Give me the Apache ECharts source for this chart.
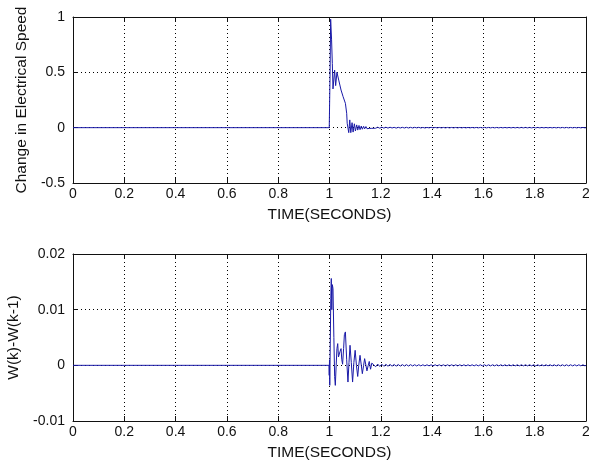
<!DOCTYPE html>
<html>
<head>
<meta charset="utf-8">
<script src="https://cdn.jsdelivr.net/npm/echarts@6/dist/echarts.min.js"></script>
<style>
  html, body { margin: 0; padding: 0; background: #fff; }
  #chart { width: 589px; height: 463px; }
</style>
</head>
<body>
<div id="chart"></div>
<script>
// x axis ticks (seconds)
const timeTicks = [0, 0.2, 0.4, 0.6, 0.8, 1, 1.2, 1.4, 1.6, 1.8, 2]

// top panel: change in electrical speed, transient part
const speedT = [0, 0.999, 1.002, 1.0045, 1.008, 1.011, 1.0136, 1.020, 1.024, 1.029, 1.036, 1.045, 1.053,
  1.062, 1.067, 1.069, 1.075, 1.079, 1.083, 1.088, 1.092, 1.097, 1.101, 1.106, 1.110, 1.115, 1.119,
  1.124, 1.128, 1.133, 1.137, 1.142, 1.146, 1.151, 1.155, 1.160, 1.165]
const speedV = [0, 0, 0.45, 0.98, 0.8, 0.58, 0.35, 0.52, 0.38, 0.50, 0.43, 0.34, 0.28,
  0.22, 0.13, 0.04, -0.045, 0.07, -0.045, 0.045, -0.04, 0.035, -0.03, 0.025, -0.022, 0.02, -0.018,
  0.015, -0.014, 0.012, -0.011, 0.01, -0.009, 0.008, -0.007, 0.006, -0.006]

// bottom panel: W(k)-W(k-1), transient part
const deltaT = [0, 0.998, 0.999, 1.000, 1.001, 1.003, 1.005, 1.007, 1.009, 1.011, 1.0136, 1.017, 1.020,
  1.0227, 1.026, 1.029, 1.032, 1.035, 1.038, 1.041, 1.045, 1.048, 1.051, 1.055, 1.058, 1.062, 1.067,
  1.072, 1.076, 1.080, 1.085, 1.090, 1.095, 1.100, 1.105, 1.110, 1.114, 1.119, 1.124, 1.128, 1.133,
  1.137, 1.142, 1.146, 1.151, 1.155, 1.160, 1.165]
const deltaV = [0, 0, -0.0018, 0.001, -0.0036, 0.004, 0.012, 0.0156, 0.010, 0.0145, 0.0138, 0.005, -0.002,
  -0.0036, 0.000, 0.003, 0.0039, 0.0015, 0.0012, 0.0025, 0.003, 0.001, 0.0002, 0.003, 0.0055, 0.006, 0.001,
  -0.003, 0.0005, 0.0036, 0.0005, -0.003, 0.0005, 0.0027, 0.0, -0.002, 0.0, 0.0018, 0.0, -0.0015, 0.0,
  0.0012, 0.0, -0.001, 0.0, 0.0007, -0.0007, 0.0004]

// small ripple after the transient, sampled every half period
const rippleStart = 1.172
const rippleStep = 0.008
const speedRipple = [0.005, -0.005, 0.004, -0.005, 0.004, -0.004, 0.004, -0.004, 0.004, -0.003,
  0.003, -0.004, 0.003, -0.003, 0.003, -0.003, 0.003, -0.003, 0.003, -0.003,
  0.003, -0.002, 0.003, -0.003, 0.002, -0.003, 0.002, -0.002, 0.003, -0.002,
  0.002, -0.002, 0.002, -0.002, 0.002, -0.002, 0.002, -0.002, 0.002, -0.002,
  0.002, -0.002, 0.002, -0.002, 0.002, -0.002, 0.002, -0.002, 0.002, -0.002,
  0.002, -0.002, 0.002, -0.002, 0.002, -0.002, 0.002, -0.002, 0.002, -0.002,
  0.002, -0.002, 0.002, -0.002, 0.002, -0.002, 0.002, -0.002, 0.002, -0.002,
  0.002, -0.002, 0.002, -0.002, 0.002, -0.002, 0.002, -0.002, 0.002, -0.002,
  0.002, -0.002, 0.002, -0.002, 0.002, -0.002, 0.002, -0.002, 0.002, -0.002,
  0.002, -0.002, 0.002, -0.002, 0.002, -0.002, 0.002, -0.002, 0.002, -0.002,
  0.002, -0.002, 0.002, -0.002]
const deltaRipple = [0.0003, -0.00025, 0.00022, -0.0002, 0.0002, -0.00018, 0.00018, -0.00016, 0.00016, -0.00015,
  0.00015, -0.00014, 0.00014, -0.00013, 0.00013, -0.00012, 0.00012, -0.00012, 0.00012, -0.00011,
  0.00011, -0.00011, 0.00011, -0.0001, 0.0001, -0.0001, 0.0001, -0.0001, 0.0001, -0.0001,
  0.0001, -0.0001, 0.0001, -0.0001, 0.0001, -0.0001, 0.0001, -0.0001, 0.0001, -0.0001,
  0.0001, -0.0001, 0.0001, -0.0001, 0.0001, -0.0001, 0.0001, -0.0001, 0.0001, -0.0001,
  0.0001, -0.0001, 0.0001, -0.0001, 0.0001, -0.0001, 0.0001, -0.0001, 0.0001, -0.0001,
  0.0001, -0.0001, 0.0001, -0.0001, 0.0001, -0.0001, 0.0001, -0.0001, 0.0001, -0.0001,
  0.0001, -0.0001, 0.0001, -0.0001, 0.0001, -0.0001, 0.0001, -0.0001, 0.0001, -0.0001,
  0.0001, -0.0001, 0.0001, -0.0001, 0.0001, -0.0001, 0.0001, -0.0001, 0.0001, -0.0001,
  0.0001, -0.0001, 0.0001, -0.0001, 0.0001, -0.0001, 0.0001, -0.0001, 0.0001, -0.0001,
  0.0001, -0.0001, 0.0001, -0.0001]

const speedTicks = [-0.5, 0, 0.5, 1]
const deltaTicks = [-0.01, 0, 0.01, 0.02]

const toPairs = (ts, vs, ripple) => {
  const out = ts.map((t, i) => [t, vs[i]])
  ripple.forEach((v, i) => {
    const t = rippleStart + i * rippleStep
    if (t <= 2) out.push([t, v])
  })
  out.push([2, 0])
  return out
}

const FONT = 'Liberation Sans'
const INK = '#111'
const LINE = '#1a1aa8'

const fmt = v => String(Math.round(v * 1000) / 1000)

const xMain = (gi, name) => ({
  type: 'value', gridIndex: gi, min: timeTicks[0], max: timeTicks[timeTicks.length - 1], interval: 0.2,
  name, nameLocation: 'middle', nameGap: 24,
  nameTextStyle: { color: INK, fontFamily: FONT, fontSize: 15.5 },
  axisLine: { onZero: false, lineStyle: { color: INK, width: 1 } },
  axisTick: { inside: true, length: 5, lineStyle: { color: INK } },
  axisLabel: { color: INK, fontFamily: FONT, fontSize: 14, margin: 4, formatter: fmt },
  splitLine: { show: true, lineStyle: { color: '#000', type: [1, 3], width: 1 } }
})
const xTop = gi => ({
  type: 'value', gridIndex: gi, position: 'top', min: 0, max: 2, interval: 0.2,
  axisLine: { onZero: false, lineStyle: { color: INK } },
  axisTick: { inside: true, length: 5, lineStyle: { color: INK } },
  axisLabel: { show: false }, splitLine: { show: false }
})
const yMain = (gi, ticks, name) => ({
  type: 'value', gridIndex: gi, min: ticks[0], max: ticks[ticks.length - 1], interval: ticks[1] - ticks[0],
  name, nameLocation: 'middle', nameRotate: 90, nameGap: 40,
  nameTextStyle: { color: INK, fontFamily: FONT, fontSize: 15.5 },
  axisLine: { show: true, onZero: false, lineStyle: { color: INK, width: 1 } },
  axisTick: { show: true, inside: true, length: 5, lineStyle: { color: INK } },
  axisLabel: { color: INK, fontFamily: FONT, fontSize: 14, margin: 8, formatter: fmt },
  splitLine: { show: true, lineStyle: { color: '#000', type: [1, 3], width: 1 } }
})
const yRight = (gi, ticks) => ({
  type: 'value', gridIndex: gi, position: 'right', min: ticks[0], max: ticks[ticks.length - 1], interval: ticks[1] - ticks[0],
  axisLine: { show: true, onZero: false, lineStyle: { color: INK } },
  axisTick: { show: true, inside: true, length: 5, lineStyle: { color: INK } },
  axisLabel: { show: false }, splitLine: { show: false }
})

const chart = echarts.init(document.getElementById('chart'))
chart.setOption({
  animation: false,
  backgroundColor: '#fff',
  grid: [
    { left: 73, top: 17, width: 513, height: 166, outerBoundsMode: 'none', containLabel: false },
    { left: 73, top: 254, width: 513, height: 167, outerBoundsMode: 'none', containLabel: false }
  ],
  xAxis: [xMain(0, 'TIME(SECONDS)'), xTop(0), xMain(1, 'TIME(SECONDS)'), xTop(1)],
  yAxis: [yMain(0, speedTicks, 'Change in Electrical Speed'), yRight(0, speedTicks),
          yMain(1, deltaTicks, 'W(k)-W(k-1)'), yRight(1, deltaTicks)],
  series: [
    {
      type: 'line', xAxisIndex: 0, yAxisIndex: 0, showSymbol: false,
      lineStyle: { color: LINE, width: 1 }, data: toPairs(speedT, speedV, speedRipple)
    },
    {
      type: 'line', xAxisIndex: 2, yAxisIndex: 2, showSymbol: false,
      lineStyle: { color: LINE, width: 1 }, data: toPairs(deltaT, deltaV, deltaRipple)
    }
  ]
})
</script>
</body>
</html>
